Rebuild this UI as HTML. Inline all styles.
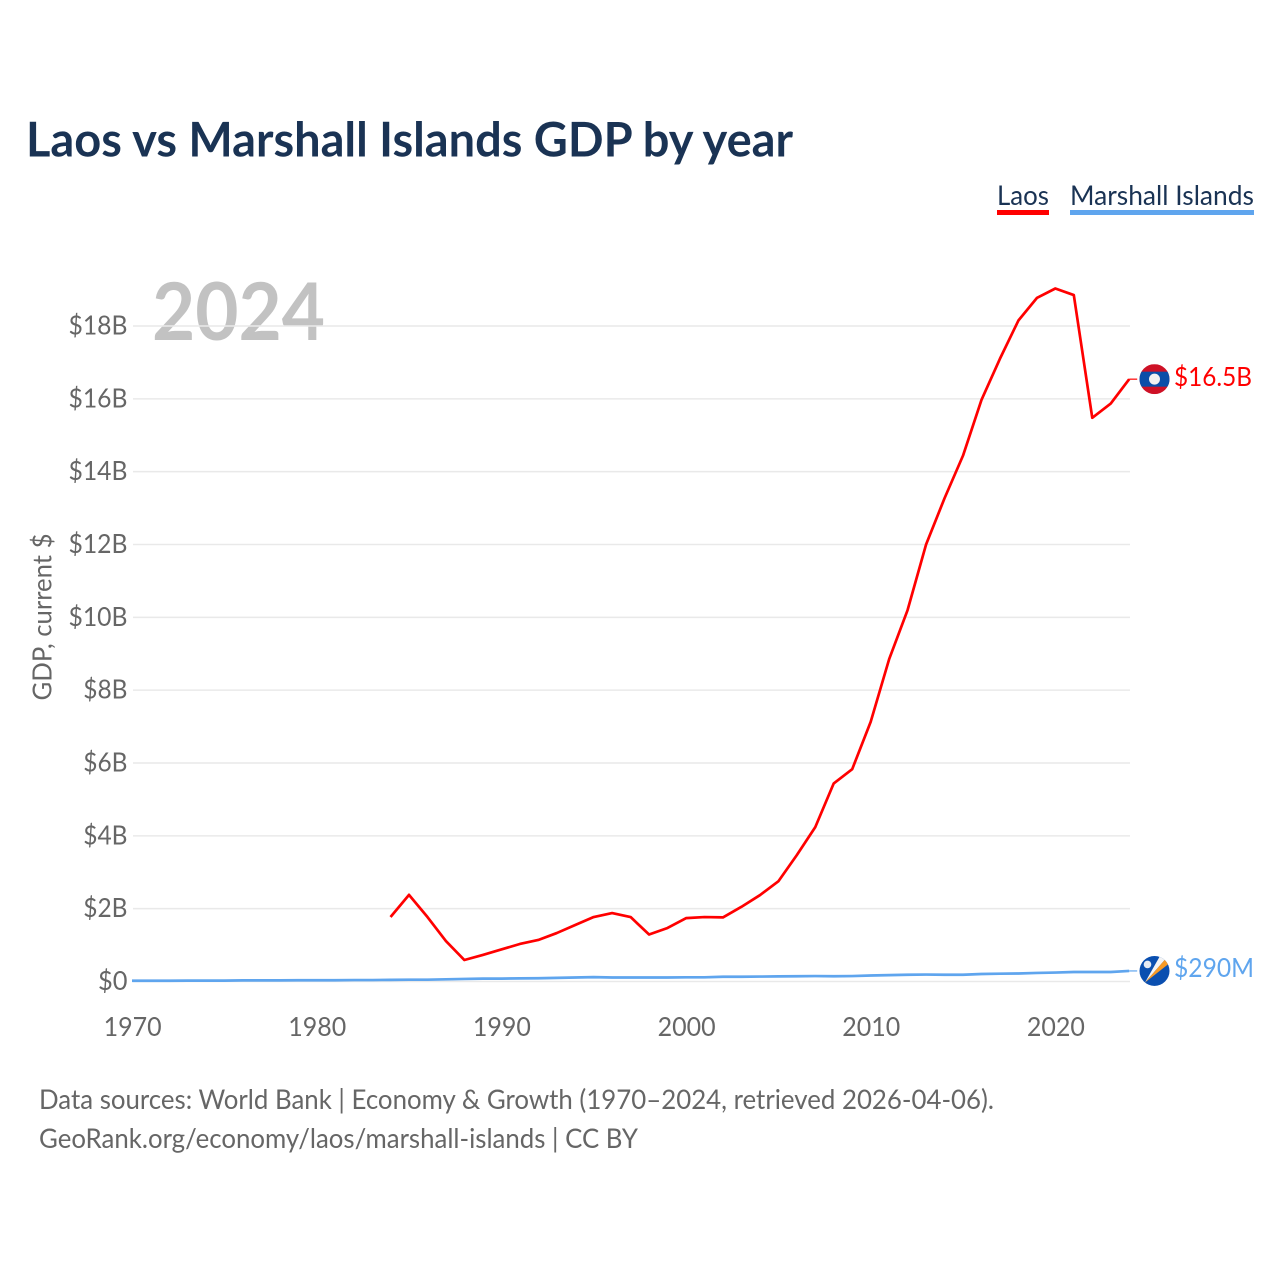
<!DOCTYPE html>
<html lang="en">
<head>
<meta charset="utf-8">
<title>Laos vs Marshall Islands GDP by year</title>
<style>
html,body{margin:0;padding:0;background:#fff;}
svg{display:block;font-family:"Lato","Carlito","Liberation Sans",sans-serif;}
</style>
</head>
<body>
<svg id="chart" xmlns="http://www.w3.org/2000/svg" width="1280" height="1280" viewBox="0 0 1280 1280">
  <rect x="0" y="0" width="1280" height="1280" fill="#ffffff"/>
  <text x="26" y="156.5" font-size="48" font-weight="700" fill="#1a3354" textLength="767" lengthAdjust="spacingAndGlyphs">Laos vs Marshall Islands GDP by year</text>

  <g>
    <g>
      <text x="997" y="205" font-size="27" fill="#1a3354" textLength="52" lengthAdjust="spacingAndGlyphs">Laos</text>
      <rect x="997" y="210" width="52" height="5" fill="#ff0000"/>
    </g>
    <g>
      <text x="1070" y="205" font-size="27" fill="#1a3354" textLength="184" lengthAdjust="spacingAndGlyphs">Marshall Islands</text>
      <rect x="1070" y="210" width="184" height="5" fill="#5fa5ee"/>
    </g>
  </g>

  <text x="152" y="340" font-size="80" font-weight="700" fill="#c2c2c2" textLength="173" lengthAdjust="spacingAndGlyphs">2024</text>

  <text transform="translate(51.5,617) rotate(-90)" text-anchor="middle" font-size="26" fill="#666666" textLength="167" lengthAdjust="spacingAndGlyphs">GDP, current $</text>

  <g id="grid"></g>
  <g id="y-ticks"></g>
  <g id="x-ticks"></g>
  <g id="series"></g>

  <g id="end-markers">
    <g id="flag-laos">
      <clipPath id="clip-laos"><circle cx="0" cy="0" r="15"/></clipPath>
      <g clip-path="url(#clip-laos)">
        <rect x="-15" y="-15" width="30" height="30" fill="#ce1126"/>
        <rect x="-15" y="-7.5" width="30" height="15" fill="#0b4ea8"/>
      </g>
      <circle cx="0" cy="0" r="5.5" fill="#f1f1f1"/>
    </g>
    <g id="flag-marshall">
      <clipPath id="clip-marshall"><circle cx="0" cy="0" r="15"/></clipPath>
      <g clip-path="url(#clip-marshall)">
        <rect x="-15" y="-15" width="30" height="30" fill="#0a4fb0"/>
        <polygon points="-9.5,11.5 5.5,-15 11,-12" fill="#f4f4f4"/>
        <polygon points="-9.5,11.5 11,-12 14,-7" fill="#f79a25"/>
      </g>
      <circle cx="-7" cy="-6.5" r="3.8" fill="#e6ebf3"/>
    </g>
    <text id="value-laos" x="1174" y="386" font-size="26" fill="#ff0000" textLength="78" lengthAdjust="spacingAndGlyphs">$16.5B</text>
    <text id="value-marshall" x="1174" y="977" font-size="26" fill="#5fa5ee" textLength="80" lengthAdjust="spacingAndGlyphs">$290M</text>
  </g>

  <g>
    <text x="39" y="1109" font-size="27" fill="#666666" textLength="955" lengthAdjust="spacingAndGlyphs">Data sources: World Bank | Economy &amp; Growth (1970–2024, retrieved 2026-04-06).</text>
    <text x="39" y="1148" font-size="27" fill="#666666" textLength="599" lengthAdjust="spacingAndGlyphs">GeoRank.org/economy/laos/marshall-islands | CC BY</text>
  </g>
</svg>
<script>
const yTickValues = [0, 2, 4, 6, 8, 10, 12, 14, 16, 18];
const yTickLabels = ["$0", "$2B", "$4B", "$6B", "$8B", "$10B", "$12B", "$14B", "$16B", "$18B"];
const xTickValues = [1970, 1980, 1990, 2000, 2010, 2020];
const xTickLabels = ["1970", "1980", "1990", "2000", "2010", "2020"];

const laosYears = [1984,1985,1986,1987,1988,1989,1990,1991,1992,1993,1994,1995,1996,1997,1998,1999,2000,2001,2002,2003,2004,2005,2006,2007,2008,2009,2010,2011,2012,2013,2014,2015,2016,2017,2018,2019,2020,2021,2022,2023,2024];
const laosGdp = [1.77,2.38,1.77,1.11,0.59,0.73,0.88,1.03,1.14,1.33,1.55,1.77,1.88,1.77,1.29,1.47,1.74,1.77,1.76,2.05,2.37,2.75,3.47,4.24,5.44,5.83,7.13,8.85,10.2,12.0,13.27,14.44,15.97,17.1,18.15,18.77,19.03,18.85,15.48,15.87,16.54];

const marshallYears = [1970,1971,1972,1973,1974,1975,1976,1977,1978,1979,1980,1981,1982,1983,1984,1985,1986,1987,1988,1989,1990,1991,1992,1993,1994,1995,1996,1997,1998,1999,2000,2001,2002,2003,2004,2005,2006,2007,2008,2009,2010,2011,2012,2013,2014,2015,2016,2017,2018,2019,2020,2021,2022,2023,2024];
const marshallGdp = [0.02,0.02,0.02,0.025,0.025,0.025,0.03,0.03,0.03,0.035,0.035,0.035,0.04,0.04,0.045,0.05,0.05,0.06,0.07,0.08,0.08,0.085,0.09,0.1,0.11,0.12,0.11,0.11,0.11,0.11,0.115,0.115,0.13,0.13,0.135,0.14,0.145,0.15,0.145,0.15,0.165,0.175,0.185,0.19,0.185,0.185,0.205,0.215,0.22,0.235,0.245,0.26,0.26,0.26,0.29];

const NS = "http://www.w3.org/2000/svg";
const xScale = function (year) { return 132 + (year - 1970) * (1129.2 - 132) / 54; };
const yScale = function (value) { return 981.5 - value * (981.5 - 326) / 18; };

const grid = document.getElementById("grid");
const yTicks = document.getElementById("y-ticks");
yTickValues.forEach(function (v, i) {
  const line = document.createElementNS(NS, "line");
  
  
  line.setAttribute("x1", 133);
  line.setAttribute("x2", 1130);
  line.setAttribute("y1", yScale(v));
  line.setAttribute("y2", yScale(v));
  line.setAttribute("stroke", "#e9e9e9");
  line.setAttribute("stroke-width", 1.5);
  grid.appendChild(line);
  const label = document.createElementNS(NS, "text");
  
  
  label.setAttribute("x", 127.5);
  label.setAttribute("y", yScale(v) + 8.5);
  label.setAttribute("text-anchor", "end");
  label.setAttribute("font-size", 26);
  label.setAttribute("fill", "#666666");
  label.setAttribute("textLength", 14.75 * yTickLabels[i].length);
  label.setAttribute("lengthAdjust", "spacingAndGlyphs");
  label.textContent = yTickLabels[i];
  yTicks.appendChild(label);
});

const xTicks = document.getElementById("x-ticks");
xTickValues.forEach(function (v, i) {
  const label = document.createElementNS(NS, "text");
  
  
  label.setAttribute("x", xScale(v) + 0.6);
  label.setAttribute("y", 1036);
  label.setAttribute("text-anchor", "middle");
  label.setAttribute("font-size", 26);
  label.setAttribute("fill", "#666666");
  label.setAttribute("textLength", 58);
  label.setAttribute("lengthAdjust", "spacingAndGlyphs");
  label.textContent = xTickLabels[i];
  xTicks.appendChild(label);
});

const series = document.getElementById("series");
function pathFrom(years, values) {
  return years.map(function (yr, i) {
    return (i ? "L" : "M") + xScale(yr).toFixed(2) + " " + yScale(values[i]).toFixed(2);
  }).join(" ");
}

const marshallPath = document.createElementNS(NS, "path");


marshallPath.setAttribute("d", pathFrom(marshallYears, marshallGdp));
marshallPath.setAttribute("fill", "none");
marshallPath.setAttribute("stroke", "#5fa5ee");
marshallPath.setAttribute("stroke-width", 2.7);
marshallPath.setAttribute("stroke-linejoin", "round");
series.appendChild(marshallPath);

const laosPath = document.createElementNS(NS, "path");


laosPath.setAttribute("d", pathFrom(laosYears, laosGdp));
laosPath.setAttribute("fill", "none");
laosPath.setAttribute("stroke", "#ff0000");
laosPath.setAttribute("stroke-width", 2.7);
laosPath.setAttribute("stroke-linejoin", "round");
series.appendChild(laosPath);

const endX = xScale(2024);
const laosEndY = yScale(laosGdp[laosGdp.length - 1]);
const marshallEndY = yScale(marshallGdp[marshallGdp.length - 1]);

const laosConnector = document.createElementNS(NS, "line");


laosConnector.setAttribute("x1", endX);
laosConnector.setAttribute("x2", endX + 8);
laosConnector.setAttribute("y1", laosEndY);
laosConnector.setAttribute("y2", laosEndY);
laosConnector.setAttribute("stroke", "#ff0000");
laosConnector.setAttribute("stroke-width", 1.2);
series.appendChild(laosConnector);

const marshallConnector = document.createElementNS(NS, "line");


marshallConnector.setAttribute("x1", endX);
marshallConnector.setAttribute("x2", endX + 8);
marshallConnector.setAttribute("y1", marshallEndY);
marshallConnector.setAttribute("y2", marshallEndY);
marshallConnector.setAttribute("stroke", "#5fa5ee");
marshallConnector.setAttribute("stroke-width", 1.2);
series.appendChild(marshallConnector);

document.getElementById("flag-laos").setAttribute("transform", "translate(" + (endX + 25.3) + "," + laosEndY + ")");
document.getElementById("flag-marshall").setAttribute("transform", "translate(" + (endX + 25.3) + "," + marshallEndY + ")");
</script>
</body>
</html>
